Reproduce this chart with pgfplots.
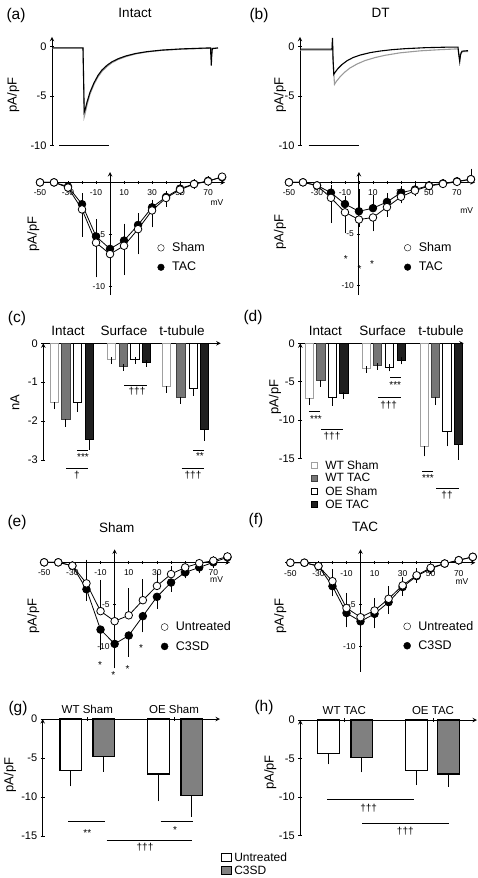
\documentclass[border=0pt]{standalone}
\usepackage{fontspec}
\setmainfont{Liberation Sans}
\usepackage{pgfplots}
\pgfplotsset{compat=1.18}
\newcommand\fL{\fontsize{15.5}{17}\selectfont}
\newcommand\fT{\fontsize{13.5}{15}\selectfont}
\newcommand\fY{\fontsize{13}{15}\selectfont}
\newcommand\fK{\fontsize{11}{12}\selectfont}
\newcommand\fS{\fontsize{8.5}{9}\selectfont}
\newcommand\fG{\fontsize{12.5}{14}\selectfont}
\newcommand\fD{\fontsize{12}{13}\selectfont}
\newcommand\fX{\fontsize{10}{11}\selectfont}
\definecolor{midgray}{HTML}{767676}
\definecolor{lgray}{HTML}{A0A0A0}
\definecolor{tgray}{HTML}{9A9A9A}
\pgfplotsset{
 base/.style={scale only axis, clip=false, anchor=south west,
   axis line style={line width=1pt,-}, every tick/.style={black,line width=0.8pt},
   tick align=outside},
 trace/.style={base, axis y line=left, axis x line=none, ymin=-10, ymax=1,
   ytick={0,-5,-10}, yticklabels={0,-5,-10}, yticklabel style={font=\fK}, major tick length=4pt},
 iv/.style={base, axis lines=middle, xtick={-50,-30,...,70}, xticklabels={-50,-30,-10,10,30,50,70},
   minor xtick={-40,-20,...,80}, ytick={-5,-10}, yticklabels={-5,-10},
   ticklabel style={font=\fS}, xticklabel style={yshift=-2.5pt}, major tick length=3pt, minor tick length=3pt,
   legend image code/.code={\draw[#1] plot coordinates {(3.5pt,0pt)}; \path (12.5pt,0pt);},
   legend style={draw=none, fill=none, font=\fG, inner sep=0pt, row sep=5pt, legend cell align=left, anchor=west}},
 bars/.style={base, axis y line=left, axis x line=top, yticklabel style={font=\fK}, major tick length=4pt},
 ivo/.style={black, line width=0.8pt, mark=*, mark size=3.8pt, mark options={fill=white, solid}},
 ivf/.style={black, line width=0.8pt, mark=*, mark size=3.8pt, mark options={fill=black, solid}},
 em/.style={error bars/y dir=minus, error bars/y explicit, error bars/error bar style={line width=0.8pt, black}, error bars/error mark options={mark size=3.5pt, line width=0.8pt, black}},
 ep/.style={error bars/y dir=plus, error bars/y explicit, error bars/error bar style={line width=0.8pt, black}, error bars/error mark options={mark size=3.5pt, line width=0.8pt, black}},
 bar/.style={ybar, bar shift=0pt, line width=0.8pt, error bars/y dir=minus, error bars/y explicit, error bars/error bar style={line width=0.8pt, black}, error bars/error mark options={mark size=3.5pt, line width=0.8pt, black}},
 sig/.style={black, line width=0.7pt, forget plot},
}
\begin{document}
\begin{tikzpicture}
\path[use as bounding box] (0,0) rectangle (477pt,-878pt);

% ---------- (a) trace
\begin{axis}[trace, at={(52pt,-145.7pt)}, width=168pt, height=108.9pt, xmin=0, xmax=168]
\addplot[tgray, line width=1.1pt] coordinates {(0,-0.15)(31,-0.15)(31.6,-3.5)(32.2,-7.1)(33,-6.8)(35,-5.9)(38,-4.8)(42,-3.8)(46,-3.05)(50,-2.5)(55,-2.0)(60,-1.62)(66,-1.3)(74,-1.0)(84,-0.72)(95,-0.53)(110,-0.37)(130,-0.25)(150,-0.18)(158.5,-0.15)(159.2,-0.6)(160,-0.15)(166,-0.15)};
\addplot[black, line width=1.1pt] coordinates {(0,-0.12)(31,-0.12)(31.6,-3.2)(32.2,-6.6)(33,-6.4)(35,-5.6)(38,-4.6)(42,-3.65)(46,-2.9)(50,-2.35)(55,-1.88)(60,-1.52)(66,-1.22)(74,-0.93)(84,-0.68)(95,-0.5)(110,-0.34)(130,-0.22)(150,-0.15)(158.5,-0.12)(159,-1.2)(159.3,-1.9)(159.7,-1.0)(160.3,-0.2)(166,-0.12)};
\addplot[black, line width=1pt] coordinates {(7,-10)(57,-10)};
\end{axis}

% ---------- (b) trace
\begin{axis}[trace, at={(300pt,-145.7pt)}, width=169pt, height=108.9pt, xmin=0, xmax=169]
\addplot[tgray, line width=1.1pt] coordinates {(0,-0.35)(32,-0.35)(32.5,0.5)(33.5,-2.2)(34.5,-3.8)(36,-3.55)(40,-3.05)(45,-2.55)(50,-2.15)(57,-1.75)(65,-1.4)(75,-1.1)(85,-0.87)(100,-0.62)(120,-0.42)(140,-0.3)(158,-0.22)(159,-0.8)(160,-1.2)(161,-0.6)(163,-0.5)(168,-0.5)};
\addplot[black, line width=1.1pt] coordinates {(0,-0.25)(32,-0.25)(32.5,0.9)(33,-1.2)(33.8,-2.8)(35,-2.6)(38,-2.2)(42,-1.8)(47,-1.42)(53,-1.1)(60,-0.85)(70,-0.6)(80,-0.44)(92,-0.3)(105,-0.2)(125,-0.1)(145,-0.05)(158,-0.05)(159,-1.0)(159.7,-1.5)(160.5,-0.8)(162,-0.45)(168,-0.4)};
\addplot[black, line width=1pt] coordinates {(8.7,-10)(58.7,-10)};
\end{axis}

% ---------- (a) IV
\begin{axis}[iv, at={(40pt,-295pt)}, width=185pt, height=123pt, xmin=-50, xmax=82.1, ymin=-10.84, ymax=1.0,
  legend style={at={(0.635,0.305)}}]
\addplot[ivf, ep, forget plot] coordinates {(-50,0)+-(0,0.05)(-40,0)+-(0,0.05)(-30,-0.4)+-(0,0.1)(-20,-2.1)+-(0,0.7)(-10,-5.2)+-(0,1.3)(0,-6.4)+-(0,0.3)(10,-5.6)+-(0,1.3)(20,-4.1)+-(0,0.8)(30,-2.4)+-(0,0.4)(40,-1.4)+-(0,0.2)(50,-0.6)+-(0,0.1)(60,-0.15)+-(0,0.1)(70,0.15)+-(0,0.1)(80,0.5)+-(0,0.1)};
\addplot[ivo, em, forget plot] coordinates {(-50,0)+-(0,0.05)(-40,0)+-(0,0.05)(-30,-0.5)+-(0,0.1)(-20,-2.6)+-(0,2.3)(-10,-5.8)+-(0,3.0)(0,-6.9)+-(0,0.3)(10,-6.1)+-(0,2.5)(20,-4.5)+-(0,2.1)(30,-2.7)+-(0,1.3)(40,-1.5)+-(0,0.5)(50,-0.7)+-(0,0.2)(60,-0.16)+-(0,0.1)(70,0.1)+-(0,0.1)(80,0.55)+-(0,0.1)};
\addlegendimage{only marks, mark=*, mark size=3.3pt, black, mark options={fill=white}}
\addlegendentry{Sham}
\addlegendimage{only marks, mark=*, mark size=3.3pt, black, mark options={fill=black}}
\addlegendentry{TAC}
\node[font=\fS] at (axis cs:76.4,-1.9) {mV};
\end{axis}

% ---------- (b) IV
\begin{axis}[iv, at={(287pt,-295pt)}, width=188pt, height=123pt, xmin=-51.4, xmax=82.9, ymin=-10.9, ymax=1.0,
  legend style={at={(0.623,0.306)}}]
\addplot[ivf, ep, forget plot] coordinates {(-50,0)+-(0,0.05)(-40,0)+-(0,0.05)(-30,-0.3)+-(0,0.1)(-20,-1.0)+-(0,0.4)(-10,-2.1)+-(0,0.4)(0,-2.8)+-(0,1.8)(10,-2.5)+-(0,0.9)(20,-1.9)+-(0,0.5)(30,-1.0)+-(0,0.3)(40,-0.7)+-(0,0.2)(50,-0.3)+-(0,0.1)(60,-0.1)+-(0,0.1)(70,0.1)+-(0,0.1)(80,0.3)+-(0,0.7)};
\addplot[ivo, em, forget plot] coordinates {(-50,0)+-(0,0.05)(-40,0)+-(0,0.05)(-30,-0.3)+-(0,0.1)(-20,-1.5)+-(0,2.1)(-10,-2.9)+-(0,1.7)(0,-3.6)+-(0,0.4)(10,-3.4)+-(0,1.0)(20,-2.4)+-(0,0.6)(30,-1.4)+-(0,0.3)(40,-0.8)+-(0,0.2)(50,-0.35)+-(0,0.1)(60,-0.15)+-(0,0.1)(70,0.05)+-(0,0.1)(80,0.3)+-(0,0.1)};
\addlegendimage{only marks, mark=*, mark size=3.3pt, black, mark options={fill=white}}
\addlegendentry{Sham}
\addlegendimage{only marks, mark=*, mark size=3.3pt, black, mark options={fill=black}}
\addlegendentry{TAC}
\node[font=\fS] at (axis cs:77,-2.7) {mV};
\node[font=\fX] at (axis cs:-9.3,-7.45) {*};
\node[font=\fX] at (axis cs:0.5,-8.4) {*};
\node[font=\fX] at (axis cs:9.3,-7.9) {*};
\end{axis}

% ---------- (c) bars
\begin{axis}[bars, at={(43.3pt,-460pt)}, width=177.4pt, height=116.7pt, xmin=43.3, xmax=220.7, ymin=-3, ymax=0,
  ytick={0,-1,-2,-3}, yticklabels={0,-1,-2,-3},
  xtick={68,124,182}, xticklabels={Intact,Surface,t-tubule}, xticklabel style={font=\fT, yshift=2pt},
  x tick style={draw=none}]
\addplot[bar, bar width=8.3pt, draw=lgray, fill=white] coordinates {(54.5,-1.52)+-(0,0.08)(111.5,-0.42)+-(0,0.02)(166.5,-1.12)+-(0,0.06)};
\addplot[bar, bar width=8.3pt, draw=black!75, fill=midgray] coordinates {(65.8,-1.95)+-(0,0.1)(123.2,-0.6)+-(0,0.02)(180.8,-1.38)+-(0,0.08)};
\addplot[bar, bar width=8.3pt, draw=black, fill=white] coordinates {(77.5,-1.53)+-(0,0.14)(135,-0.41)+-(0,0.02)(193.5,-1.15)+-(0,0.11)};
\addplot[bar, bar width=8.3pt, draw=black, fill=black!88] coordinates {(89.2,-2.47)+-(0,0.18)(146.5,-0.48)+-(0,0.03)(204.5,-2.22)+-(0,0.2)};
\addplot[sig] coordinates {(77,-2.76)(88,-2.76)};
\addplot[sig] coordinates {(66,-3.22)(88,-3.22)};
\addplot[sig] coordinates {(124,-1.09)(146.7,-1.09)};
\addplot[sig] coordinates {(193,-2.74)(204,-2.74)};
\addplot[sig] coordinates {(181.7,-3.22)(204,-3.22)};
\node[font=\fX] at (axis cs:83,-2.92) {***};
\node[font=\fX] at (axis cs:77,-3.40) {\textdagger};
\node[font=\fX] at (axis cs:137,-1.24) {\textdagger\textdagger\textdagger};
\node[font=\fX] at (axis cs:200,-2.91) {**};
\node[font=\fX] at (axis cs:193,-3.40) {\textdagger\textdagger\textdagger};
\end{axis}

% ---------- (d) bars
\begin{axis}[bars, at={(300.3pt,-458.3pt)}, width=163.4pt, height=115pt, xmin=300.3, xmax=463.7, ymin=-15, ymax=0,
  ytick={0,-5,-10,-15}, yticklabels={0,-5,-10,-15},
  xtick={325.3,382.7,441}, xticklabels={Intact,Surface,t-tubule}, xticklabel style={font=\fT, yshift=2pt},
  x tick style={draw=none},
  legend image code/.code={\draw[#1] (0pt,-3pt) rectangle (6pt,3pt); \path (11pt,0pt);},
  legend style={draw=none, fill=none, font=\fD, inner sep=0pt, row sep=-1pt, legend cell align=left, anchor=west, at={(0.067,-0.232)}}]
\addplot[bar, bar width=8.3pt, draw=lgray, fill=white, forget plot] coordinates {(309.5,-7.2)+-(0,0.4)(366.2,-3.3)+-(0,0.1)(424.5,-13.4)+-(0,0.9)};
\addplot[bar, bar width=8.3pt, draw=black!75, fill=midgray, forget plot] coordinates {(320.8,-4.9)+-(0,0.3)(377.5,-2.9)+-(0,0.1)(435.5,-7.0)+-(0,0.6)};
\addplot[bar, bar width=8.3pt, draw=black, fill=white, forget plot] coordinates {(332.2,-7.0)+-(0,0.7)(389.5,-3.1)+-(0,0.1)(447,-11.5)+-(0,1.5)};
\addplot[bar, bar width=8.3pt, draw=black, fill=black!88, forget plot] coordinates {(343.8,-6.5)+-(0,0.3)(401.2,-2.2)+-(0,0.1)(458.7,-13.2)+-(0,1.5)};
\addlegendimage{draw=lgray, fill=white, line width=0.8pt}\addlegendentry{WT Sham}
\addlegendimage{draw=black!75, fill=midgray, line width=0.8pt}\addlegendentry{WT TAC}
\addlegendimage{draw=black, fill=white, line width=0.8pt}\addlegendentry{OE Sham}
\addlegendimage{draw=black, fill=black!88, line width=0.8pt}\addlegendentry{OE TAC}
\addplot[sig] coordinates {(309,-8.92)(320,-8.92)};
\addplot[sig] coordinates {(321,-11.21)(343,-11.21)};
\addplot[sig] coordinates {(390,-4.43)(401,-4.43)};
\addplot[sig] coordinates {(378,-7.04)(401,-7.04)};
\addplot[sig] coordinates {(422,-16.65)(433,-16.65)};
\addplot[sig] coordinates {(436,-18.9)(458.7,-18.9)};
\node[font=\fX] at (axis cs:316,-9.87) {***};
\node[font=\fX] at (axis cs:332,-12.18) {\textdagger\textdagger\textdagger};
\node[font=\fX] at (axis cs:395.3,-5.44) {***};
\node[font=\fX] at (axis cs:388.7,-8.04) {\textdagger\textdagger\textdagger};
\node[font=\fX] at (axis cs:428,-17.6) {***};
\node[font=\fX] at (axis cs:447,-19.78) {\textdagger\textdagger};
\end{axis}

% ---------- (e) IV
\begin{axis}[iv, at={(43.3pt,-668.3pt)}, width=186.7pt, height=119pt, xmin=-50.6, xmax=81.8, ymin=-12.6, ymax=1.55,
  legend style={at={(0.63,0.266)}}]
\addplot[ivf, em, forget plot] coordinates {(-50,0)+-(0,0.05)(-40,0)+-(0,0.05)(-30,-0.4)+-(0,0.1)(-20,-3.2)+-(0,1.0)(-10,-8.0)+-(0,2.0)(0,-9.7)+-(0,2.3)(10,-8.7)+-(0,2.1)(20,-6.4)+-(0,1.5)(30,-4.1)+-(0,1.0)(40,-2.4)+-(0,0.7)(50,-1.2)+-(0,0.3)(60,-0.6)+-(0,0.3)(70,0)+-(0,0.2)(80,0.6)+-(0,0.1)};
\addplot[ivo, ep, forget plot] coordinates {(-50,0)+-(0,0.05)(-40,0)+-(0,0.05)(-30,-0.4)+-(0,0.1)(-20,-2.5)+-(0,2.4)(-10,-5.8)+-(0,3.3)(0,-7.0)+-(0,3.0)(10,-6.3)+-(0,2.8)(20,-4.5)+-(0,2.1)(30,-2.8)+-(0,1.4)(40,-1.4)+-(0,0.5)(50,-0.6)+-(0,0.2)(60,-0.1)+-(0,0.1)(70,0.2)+-(0,0.1)(80,0.7)+-(0,0.1)};
\addlegendimage{only marks, mark=*, mark size=3.5pt, black, mark options={fill=white}}
\addlegendentry{Untreated}
\addlegendimage{only marks, mark=*, mark size=3.5pt, black, mark options={fill=black}}
\addlegendentry{C3SD}
\node[font=\fS] at (axis cs:72.3,-2.1) {mV};
\node[font=\fX] at (axis cs:-10.4,-12.2) {*};
\node[font=\fX] at (axis cs:-1,-13.4) {*};
\node[font=\fX] at (axis cs:9.2,-12.7) {*};
\node[font=\fX] at (axis cs:18.7,-10.2) {*};
\end{axis}

% ---------- (f) IV
\begin{axis}[iv, at={(285.3pt,-671.7pt)}, width=190pt, height=122.4pt, xmin=-53.6, xmax=81.8, ymin=-13.0, ymax=1.6,
  legend style={at={(0.622,0.292)}}]
\addplot[ivf, em, forget plot] coordinates {(-50,0)+-(0,0.05)(-40,0)+-(0,0.05)(-30,-0.4)+-(0,0.1)(-20,-2.8)+-(0,0.8)(-10,-6.0)+-(0,1.3)(0,-7.0)+-(0,1.2)(10,-6.1)+-(0,1.3)(20,-4.7)+-(0,1.0)(30,-2.9)+-(0,0.6)(40,-1.6)+-(0,0.4)(50,-0.7)+-(0,0.2)(60,-0.1)+-(0,0.1)(70,0.3)+-(0,0.1)(80,0.7)+-(0,0.1)};
\addplot[ivo, ep, forget plot] coordinates {(-50,0)+-(0,0.05)(-40,0)+-(0,0.05)(-30,-0.4)+-(0,0.1)(-20,-2.2)+-(0,1.0)(-10,-5.4)+-(0,1.4)(0,-6.5)+-(0,1.2)(10,-5.7)+-(0,1.1)(20,-4.3)+-(0,1.1)(30,-2.7)+-(0,0.6)(40,-1.5)+-(0,0.4)(50,-0.6)+-(0,0.2)(60,-0.1)+-(0,0.1)(70,0.3)+-(0,0.1)(80,0.7)+-(0,0.1)};
\addlegendimage{only marks, mark=*, mark size=3.5pt, black, mark options={fill=white}}
\addlegendentry{Untreated}
\addlegendimage{only marks, mark=*, mark size=3.5pt, black, mark options={fill=black}}
\addlegendentry{C3SD}
\node[font=\fS] at (axis cs:72.3,-2.3) {mV};
\end{axis}

% ---------- (g) bars
\begin{axis}[bars, at={(42.7pt,-836pt)}, width=177.3pt, height=117pt, xmin=42.7, xmax=220, ymin=-15, ymax=0,
  ytick={0,-5,-10,-15}, yticklabels={0,-5,-10,-15},
  xtick={87.3,174}, xticklabels={WT Sham,OE Sham}, xticklabel style={font=\fontsize{11.5}{12}\selectfont},
  major tick length=4pt,
  legend image code/.code={\draw[#1] (0pt,-4pt) rectangle (10pt,4pt);},
  legend style={draw=none, fill=none, font=\fD, inner sep=0pt, row sep=-1pt, legend cell align=left, anchor=west, at={(1.006,-0.241)}}]
\addplot[bar, bar width=21.7pt, draw=black, line width=1.1pt, fill=white, forget plot] coordinates {(70.8,-6.55)+-(0,1.65)(158.3,-7.05)+-(0,3.05)};
\addplot[bar, bar width=21.7pt, draw=black, line width=1.1pt, fill=gray, forget plot] coordinates {(103.8,-4.85)+-(0,1.45)(191.8,-9.8)+-(0,2.3)};
\addlegendimage{draw=black, fill=white, line width=1pt}\addlegendentry{Untreated}
\addlegendimage{draw=black, fill=gray, line width=1pt}\addlegendentry{C3SD}
\addplot[sig] coordinates {(68.3,-13.17)(105,-13.17)};
\addplot[sig] coordinates {(160.7,-13.17)(192.7,-13.17)};
\addplot[sig] coordinates {(106.7,-15.5)(191.7,-15.5)};
\node[font=\fX] at (axis cs:87.3,-14.65) {**};
\node[font=\fX] at (axis cs:175,-14.2) {*};
\node[font=\fX] at (axis cs:145,-16.4) {\textdagger\textdagger\textdagger};
\end{axis}

% ---------- (h) bars
\begin{axis}[bars, at={(300.3pt,-835.7pt)}, width=176.7pt, height=115.7pt, xmin=300.3, xmax=477, ymin=-15, ymax=0,
  ytick={0,-5,-10,-15}, yticklabels={0,-5,-10,-15},
  xtick={344.3,433}, xticklabels={WT TAC,OE TAC}, xticklabel style={font=\fontsize{11.5}{12}\selectfont},
  major tick length=4pt]
\addplot[bar, bar width=21.7pt, draw=black, line width=1.1pt, fill=white] coordinates {(328.5,-4.4)+-(0,0.9)(416.2,-6.5)+-(0,1.5)};
\addplot[bar, bar width=21.7pt, draw=black, line width=1.1pt, fill=gray] coordinates {(361.8,-4.85)+-(0,1.5)(448.5,-7.0)+-(0,1.2)};
\addplot[sig] coordinates {(327,-10.35)(414.3,-10.35)};
\addplot[sig] coordinates {(362,-13.36)(449.3,-13.36)};
\node[font=\fX] at (axis cs:368.7,-11.4) {\textdagger\textdagger\textdagger};
\node[font=\fX] at (axis cs:405.3,-14.45) {\textdagger\textdagger\textdagger};
\end{axis}

% ---------- free text
\node[font=\fL] at (16pt,-15pt) {(a)};
\node[font=\fL] at (259pt,-15pt) {(b)};
\node[font=\fL] at (17pt,-318pt) {(c)};
\node[font=\fL] at (253pt,-317pt) {(d)};
\node[font=\fL] at (17pt,-522pt) {(e)};
\node[font=\fL] at (256pt,-520pt) {(f)};
\node[font=\fL] at (18pt,-708pt) {(g)};
\node[font=\fL] at (264pt,-707pt) {(h)};
\node[font=\fT] at (135pt,-13pt) {Intact};
\node[font=\fT] at (380.5pt,-13pt) {DT};
\node[font=\fT] at (116.7pt,-527.3pt) {Sham};
\node[font=\fT] at (365pt,-527.3pt) {TAC};
\node[font=\fY, rotate=90] at (13.3pt,-95pt) {pA/pF};
\node[font=\fY, rotate=90] at (280pt,-95pt) {pA/pF};
\node[font=\fY, rotate=90] at (33.3pt,-234pt) {pA/pF};
\node[font=\fY, rotate=90] at (280pt,-232pt) {pA/pF};
\node[font=\fY, rotate=90] at (15pt,-403pt) {nA};
\node[font=\fY, rotate=90] at (275pt,-397pt) {pA/pF};
\node[font=\fY, rotate=90] at (33.3pt,-616pt) {pA/pF};
\node[font=\fY, rotate=90] at (280.3pt,-616pt) {pA/pF};
\node[font=\fY, rotate=90] at (10pt,-775pt) {pA/pF};
\node[font=\fY, rotate=90] at (270.3pt,-772.5pt) {pA/pF};
\end{tikzpicture}
\end{document}
